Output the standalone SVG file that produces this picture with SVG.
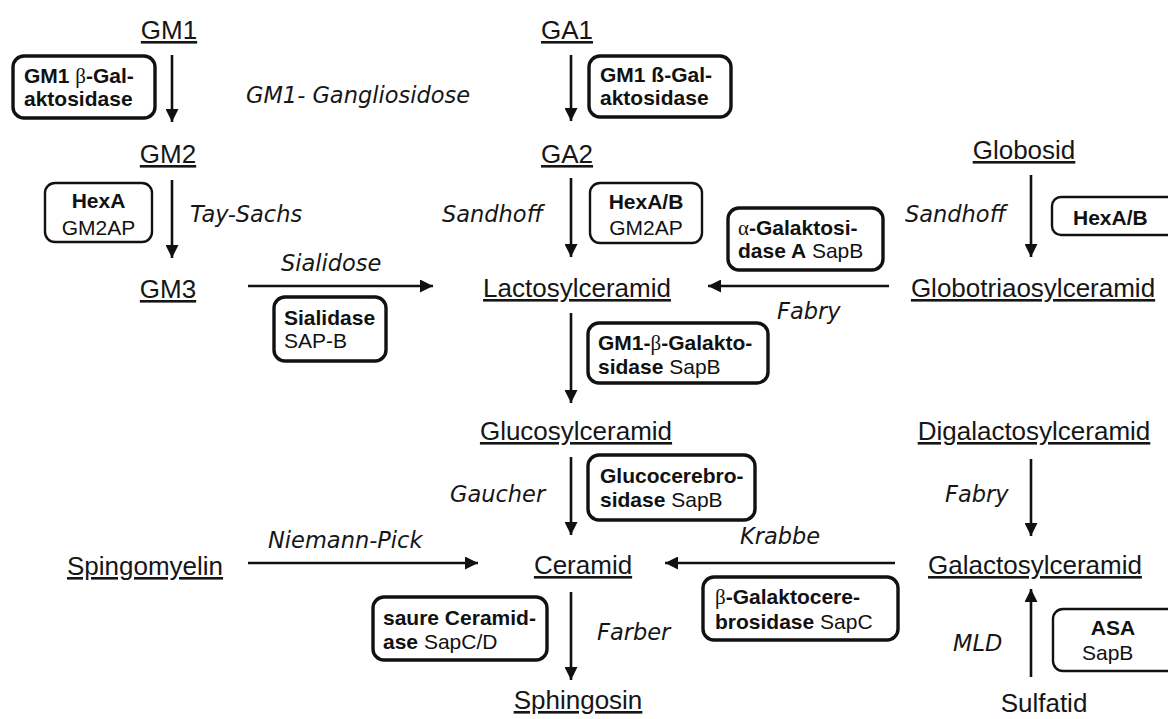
<svg xmlns="http://www.w3.org/2000/svg" width="1168" height="719" viewBox="0 0 1168 719">
<style>
.cmp{font-family:"Liberation Sans",Arial,sans-serif;font-size:26px;fill:#161616;text-anchor:middle;text-decoration:underline}
.dis{font-family:"DejaVu Sans",Verdana,sans-serif;font-style:italic;font-size:22.5px;fill:#161616}
.bt{font-family:"Liberation Sans",Arial,sans-serif;font-size:21px;fill:#111}
.b{font-weight:bold}
.gr{font-family:"Liberation Serif","DejaVu Serif",serif;font-weight:normal}
.box{fill:#fff;stroke:#111;stroke-width:3.4}
.thin{fill:#fff;stroke:#111;stroke-width:2.4}
.arr{stroke:#111;stroke-width:2.6;fill:none;marker-end:url(#ah)}
</style>
<defs>
<marker id="ah" markerUnits="userSpaceOnUse" markerWidth="14" markerHeight="13" refX="13" refY="6.5" orient="auto">
<path d="M0,0 L13,6.5 L0,13 z" fill="#111"/>
</marker>
</defs>
<rect width="1168" height="719" fill="#fff"/>

<g id="connectors">
<line class="arr" x1="172" y1="55" x2="172" y2="122"/>
<line class="arr" x1="172" y1="180" x2="172" y2="258"/>
<line class="arr" x1="571" y1="55" x2="571" y2="121"/>
<line class="arr" x1="571" y1="178" x2="571" y2="257"/>
<line class="arr" x1="1031" y1="175" x2="1031" y2="257"/>
<line class="arr" x1="248" y1="286" x2="433" y2="286"/>
<line class="arr" x1="889" y1="286" x2="708" y2="286"/>
<line class="arr" x1="571" y1="313" x2="571" y2="403"/>
<line class="arr" x1="571" y1="457" x2="571" y2="535"/>
<line class="arr" x1="248" y1="563" x2="478" y2="563"/>
<line class="arr" x1="895" y1="563" x2="665" y2="563"/>
<line class="arr" x1="571" y1="592" x2="571" y2="680"/>
<line class="arr" x1="1031" y1="459" x2="1031" y2="536"/>
<line class="arr" x1="1031" y1="677" x2="1031" y2="589"/>
</g>

<g id="GM1"><text class="cmp" x="169" y="39">GM1</text></g>
<g id="GA1"><text class="cmp" x="567" y="39">GA1</text></g>
<g id="GM2"><text class="cmp" x="168" y="163">GM2</text></g>
<g id="GA2"><text class="cmp" x="567" y="163">GA2</text></g>
<g id="Globosid"><text class="cmp" x="1024" y="159">Globosid</text></g>
<g id="GM3"><text class="cmp" x="168" y="298">GM3</text></g>
<g id="Lactosylceramid"><text class="cmp" x="577" y="297">Lactosylceramid</text></g>
<g id="Globotriaosylceramid"><text class="cmp" x="1033" y="297">Globotriaosylceramid</text></g>
<g id="Glucosylceramid"><text class="cmp" x="576" y="440">Glucosylceramid</text></g>
<g id="Digalactosylceramid"><text class="cmp" x="1034" y="440">Digalactosylceramid</text></g>
<g id="Spingomyelin"><text class="cmp" x="145" y="575">Spingomyelin</text></g>
<g id="Ceramid"><text class="cmp" x="583" y="574">Ceramid</text></g>
<g id="Galactosylceramid"><text class="cmp" x="1035" y="574">Galactosylceramid</text></g>
<g id="Sphingosin"><text class="cmp" x="578" y="709">Sphingosin</text></g>
<g id="Sulfatid"><text class="cmp" x="1044" y="712" style="text-decoration:none">Sulfatid</text></g>

<g id="diseases">
<text class="dis" x="246" y="103">GM1- Gangliosidose</text>
<text class="dis" x="190" y="222">Tay-Sachs</text>
<text class="dis" x="442" y="222">Sandhoff</text>
<text class="dis" x="905" y="222">Sandhoff</text>
<text class="dis" x="281" y="271">Sialidose</text>
<text class="dis" x="777" y="319">Fabry</text>
<text class="dis" x="450" y="502">Gaucher</text>
<text class="dis" x="268" y="548">Niemann-Pick</text>
<text class="dis" x="740" y="544">Krabbe</text>
<text class="dis" x="945" y="502">Fabry</text>
<text class="dis" x="597" y="640">Farber</text>
<text class="dis" x="953" y="651">MLD</text>
</g>

<g id="enz-gm1gal">
<rect class="box" x="13" y="56" width="142" height="62" rx="11"/>
<text class="bt b" x="24" y="83">GM1 <tspan class="gr">β</tspan>-Gal-</text>
<text class="bt b" x="24" y="106">aktosidase</text>
</g>
<g id="enz-ga1gal">
<rect class="box" x="589" y="56" width="142" height="61" rx="11"/>
<text class="bt b" x="600" y="82">GM1 ß-Gal-</text>
<text class="bt b" x="600" y="105">aktosidase</text>
</g>
<g id="enz-hexa">
<rect class="thin" x="45" y="183" width="107" height="59" rx="10"/>
<text class="bt b" x="98.5" y="208" text-anchor="middle">HexA</text>
<text class="bt" x="98.5" y="235" text-anchor="middle">GM2AP</text>
</g>
<g id="enz-hexab">
<rect class="thin" x="590" y="183" width="112" height="60" rx="10"/>
<text class="bt b" x="646" y="209" text-anchor="middle">HexA/B</text>
<text class="bt" x="646" y="235" text-anchor="middle">GM2AP</text>
</g>
<g id="enz-agal">
<rect class="box" x="728" y="208" width="155" height="62" rx="11"/>
<text class="bt b" x="738" y="235"><tspan class="gr">α</tspan>-Galaktosi-</text>
<text class="bt" x="738" y="258"><tspan class="b">dase A</tspan> SapB</text>
</g>
<g id="enz-hexab2">
<rect class="thin" x="1052" y="197" width="130" height="38" rx="9"/>
<text class="bt b" x="1073" y="225">HexA/B</text>
</g>
<g id="enz-sialidase">
<rect class="box" x="274" y="297" width="112" height="64" rx="11"/>
<text class="bt b" x="284" y="325">Sialidase</text>
<text class="bt" x="284" y="348">SAP-B</text>
</g>
<g id="enz-gm1gal2">
<rect class="box" x="588" y="323" width="180" height="60" rx="11"/>
<text class="bt b" x="598" y="350">GM1-<tspan class="gr">β</tspan>-Galakto-</text>
<text class="bt" x="598" y="374"><tspan class="b">sidase</tspan> SapB</text>
</g>
<g id="enz-glucocer">
<rect class="box" x="588" y="455" width="167" height="65" rx="11"/>
<text class="bt b" x="600" y="483">Glucocerebro-</text>
<text class="bt" x="600" y="507"><tspan class="b">sidase</tspan> SapB</text>
</g>
<g id="enz-ceramidase">
<rect class="box" x="373" y="597" width="174" height="63" rx="11"/>
<text class="bt b" x="383" y="625">saure Ceramid-</text>
<text class="bt" x="383" y="649"><tspan class="b">ase</tspan> SapC/D</text>
</g>
<g id="enz-bgalcer">
<rect class="box" x="703" y="577" width="195" height="63" rx="11"/>
<text class="bt b" x="715" y="604"><tspan class="gr">β</tspan>-Galaktocere-</text>
<text class="bt" x="715" y="629"><tspan class="b">brosidase</tspan> SapC</text>
</g>
<g id="enz-asa">
<rect class="thin" x="1053" y="609" width="130" height="62" rx="10"/>
<text class="bt b" x="1113" y="635" text-anchor="middle">ASA</text>
<text class="bt" x="1082" y="660">SapB</text>
</g>
</svg>
